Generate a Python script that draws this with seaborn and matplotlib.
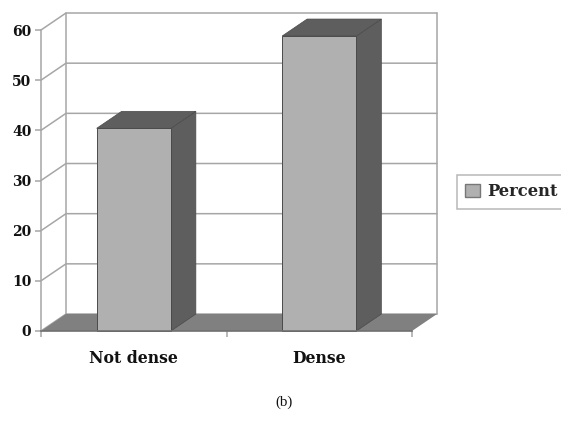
import matplotlib
matplotlib.use("Agg")
import matplotlib.pyplot as plt
from matplotlib.patches import Patch
import pandas as pd
import seaborn as sns

categories = ["Not dense", "Dense"]
percent = [40.4, 58.8]
y_ticks = [0, 10, 20, 30, 40, 50, 60]

df = pd.DataFrame({"density": categories, "percent": percent})

FRONT = "#b0b0b0"
DARK = "#5e5e5e"
FLOOR = "#808080"
LINE = "#a6a6a6"
EDGE = "#4a4a4a"

sns.set_style("white")
plt.rcParams["font.family"] = ["DejaVu Serif"]

W, H = 561, 429
fig = plt.figure(figsize=(W / 100, H / 100), dpi=100)
ax = fig.add_axes([41 / W, (H - 331) / H, (412 - 41) / W, (331 - 30) / H])

sns.barplot(data=df, x="density", y="percent", color=FRONT, saturation=1, width=0.4, ax=ax, zorder=5)
bars = list(ax.containers[0])
ax.set_xlim(-0.5, 1.5)
ax.set_ylim(0, 60)

# depth of the fake 3d box, in data units
dx = 25 / 185.5
dy = 17 / 5.02
x0, x1 = -0.5, 1.5

# back wall and gridlines
for t in y_ticks:
    ax.plot([x0, x0 + dx, x1 + dx], [t, t + dy, t + dy], color=LINE, lw=1.1, clip_on=False, zorder=1)
ax.plot([x0 + dx, x0 + dx], [dy, 60 + dy], color=LINE, lw=1.1, clip_on=False, zorder=1)
ax.plot([x1 + dx, x1 + dx], [dy, 60 + dy], color=LINE, lw=1.1, clip_on=False, zorder=1)

# floor
ax.fill([x0, x0 + dx, x1 + dx, x1], [0, dy, dy, 0], color=FLOOR, lw=0, clip_on=False, zorder=2)

# bar side and top faces, taken from the seaborn bars
for bar in bars:
    bx = bar.get_x()
    bw = bar.get_width()
    bh = bar.get_height()
    bar.set_edgecolor(EDGE)
    bar.set_linewidth(0.7)
    bar.set_clip_on(False)
    ax.fill([bx + bw, bx + bw + dx, bx + bw + dx, bx + bw], [0, dy, bh + dy, bh],
            facecolor=DARK, edgecolor=EDGE, lw=0.5, clip_on=False, zorder=4)
    ax.fill([bx, bx + dx, bx + bw + dx, bx + bw], [bh, bh + dy, bh + dy, bh],
            facecolor=DARK, edgecolor=EDGE, lw=0.5, clip_on=False, zorder=4)

sns.despine(ax=ax)
ax.spines["left"].set_color(LINE)
ax.spines["left"].set_linewidth(1.1)
ax.spines["bottom"].set_color("#707070")
ax.spines["bottom"].set_linewidth(1.2)
ax.spines["left"].set_zorder(3)
ax.spines["bottom"].set_zorder(6)

ax.set_xlabel("")
ax.set_ylabel("")
ax.set_yticks(y_ticks)
ax.tick_params(axis="y", left=True, length=4, width=1.1, color=LINE, pad=3, labelsize=10, labelcolor="#111111")
for lab in ax.get_yticklabels():
    lab.set_fontweight("bold")
ax.set_xticks([-0.5, 0.5, 1.5], minor=True)
ax.tick_params(axis="x", which="minor", bottom=True, length=4.5, width=1.1, color=LINE)
ax.tick_params(axis="x", which="major", bottom=False, pad=10, labelsize=11.3, labelcolor="#111111")
for lab in ax.get_xticklabels():
    lab.set_fontweight("bold")

leg = ax.legend(handles=[Patch(facecolor=FRONT, edgecolor="#777777", label="Percent")],
                loc="center left", bbox_to_anchor=(457 / W, (H - 192) / H),
                bbox_transform=fig.transFigure, frameon=True, fancybox=False,
                edgecolor=LINE, borderpad=0.5, borderaxespad=0, handlelength=0.9,
                handleheight=0.85, handletextpad=0.45,
                prop={"family": "DejaVu Serif", "weight": "bold", "size": 11.8})
leg.get_frame().set_linewidth(1.1)

fig.text(283.5 / W, (H - 402) / H, "(b)", family="Liberation Serif", fontsize=10.8, ha="center", va="center", color="#111111")

fig.savefig("out.png", dpi=100, facecolor="white")
